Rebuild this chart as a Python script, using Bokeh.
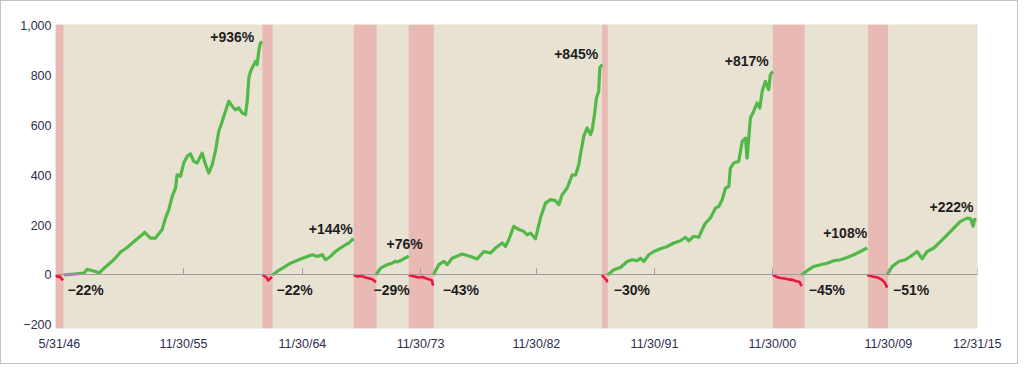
from bokeh.plotting import figure
from bokeh.models import LinearAxis, FixedTicker, BoxAnnotation, Range1d, ColumnDataSource
from bokeh.embed import file_html
from bokeh.resources import INLINE
from bokeh.core.properties import value

# ---------------- data ----------------
tick_dates = [1946.71, 1956.07, 1965.05, 1973.96, 1982.71, 1991.62, 2000.52, 2009.28, 2015.98]
tick_labels = ["5/31/46", "11/30/55", "11/30/64", "11/30/73", "11/30/82",
               "11/30/91", "11/30/00", "11/30/09", "12/31/15"]
y_ticks = [-200, 0, 200, 400, 600, 800, 1000]
y_labels = ["\u2212200", "0", "200", "400", "600", "800", "1,000"]

bear_start = [1946.41, 1962.03, 1968.92, 1973.07, 1987.67, 2000.55, 2007.74]
bear_end = [1947.01, 1962.79, 1970.64, 1974.96, 1988.09, 2002.96, 2009.25]
bear_decline = [-22, -22, -29, -43, -30, -45, -51]
bull_gain = [936, 144, 76, 845, 817, 108, 222]

bear1_t = [1946.41, 1946.56, 1946.71, 1946.86, 1946.98]
bear1_v = [0, -8, -5, -15, -22]
bear2_t = [1962.03, 1962.18, 1962.33, 1962.48, 1962.63, 1962.75]
bear2_v = [0, -4, -10, -22, -14, -8]
bear3_t = [1968.92, 1969.20, 1969.50, 1969.81, 1970.11, 1970.33, 1970.60]
bear3_v = [0, -6, -4, -10, -14, -17, -29]
bear4_t = [1973.07, 1973.43, 1973.80, 1974.11, 1974.41, 1974.63, 1974.82, 1974.91]
bear4_v = [0, -5, -10, -8, -14, -18, -22, -43]
bear5_t = [1987.67, 1987.77, 1987.88, 1988.00, 1988.07]
bear5_v = [0, -8, -14, -20, -30]
bear6_t = [2000.55, 2000.83, 2001.13, 2001.43, 2001.74, 2002.04, 2002.34, 2002.57, 2002.72]
bear6_v = [0, -8, -12, -14, -18, -20, -25, -28, -45]
bear7_t = [2007.67, 2008.07, 2008.45, 2008.80, 2008.98, 2009.09, 2009.18]
bear7_v = [0, -6, -10, -20, -30, -40, -51]

bull1_t = [1947.04, 1947.79, 1948.55, 1948.80, 1949.43, 1949.68, 1950.31, 1950.81, 1951.32,
           1951.82, 1952.58, 1952.95, 1953.13, 1953.58, 1953.96, 1954.46, 1954.71, 1954.96,
           1955.22, 1955.47, 1955.59, 1955.84, 1956.09, 1956.35, 1956.60, 1956.85, 1957.10,
           1957.48, 1957.73, 1957.98, 1958.24, 1958.49, 1958.73, 1958.99, 1959.11, 1959.49,
           1959.75, 1959.99, 1960.24, 1960.50, 1960.75, 1960.88, 1961.00, 1961.13, 1961.26,
           1961.50, 1961.63, 1961.75, 1961.88, 1962.01]
bull1_v = [0, 3, 7, 23, 14, 7, 38, 61, 92,
           110, 145, 161, 171, 148, 148, 182, 228, 262,
           315, 349, 402, 396, 450, 476, 486, 456, 449,
           489, 443, 409, 443, 500, 576, 616, 637, 697,
           677, 663, 670, 650, 643, 697, 790, 817, 831,
           857, 844, 898, 931, 936]
bull2_t = [1962.79, 1963.14, 1963.64, 1964.15, 1964.77, 1965.41, 1965.78, 1966.16, 1966.54,
           1966.79, 1967.16, 1967.54, 1967.92, 1968.30, 1968.55, 1968.80, 1968.92]
bull2_v = [0, 14, 30, 47, 61, 74, 81, 74, 81,
           61, 74, 94, 108, 121, 128, 141, 144]
bull3_t = [1970.60, 1970.94, 1971.44, 1971.82, 1972.05, 1972.20, 1972.58, 1972.95, 1973.07]
bull3_v = [0, 27, 41, 47, 55, 52, 61, 72, 76]
bull4_t = [1974.92, 1975.34, 1975.72, 1975.97, 1976.35, 1977.11, 1977.73, 1978.24, 1978.74,
           1979.24, 1979.62, 1980.13, 1980.37, 1980.62, 1981.00, 1981.38, 1981.75, 1982.01,
           1982.26, 1982.64, 1982.77, 1983.01, 1983.39, 1983.77, 1984.15, 1984.40, 1984.65,
           1985.03, 1985.41, 1985.66, 1985.91, 1986.03, 1986.28, 1986.54, 1986.79, 1986.92,
           1987.09, 1987.24, 1987.41, 1987.49, 1987.67]
bull4_v = [0, 41, 54, 41, 67, 84, 74, 64, 94,
           88, 108, 128, 114, 141, 195, 182, 175, 161,
           168, 145, 175, 228, 288, 302, 298, 282, 322,
           349, 402, 400, 443, 483, 556, 590, 563, 583,
           643, 710, 737, 831, 845]
bull5_t = [1988.07, 1988.55, 1989.05, 1989.56, 1989.94, 1990.31, 1990.56, 1990.81, 1991.19,
           1991.57, 1992.07, 1992.58, 1993.08, 1993.58, 1993.96, 1994.21, 1994.58, 1994.96,
           1995.22, 1995.47, 1995.84, 1996.22, 1996.47, 1996.73, 1996.98, 1997.23, 1997.35,
           1997.60, 1997.98, 1998.24, 1998.49, 1998.61, 1998.86, 1999.11, 1999.37, 1999.57,
           1999.75, 1999.99, 2000.24, 2000.37, 2000.55]
bull5_v = [0, 21, 30, 54, 61, 57, 67, 54, 81,
           94, 105, 114, 128, 137, 151, 137, 155, 151,
           182, 208, 228, 268, 275, 302, 349, 355, 429,
           449, 456, 536, 549, 469, 630, 657, 690, 670,
           737, 777, 744, 804, 817]
bull6_t = [2002.71, 2003.14, 2003.64, 2004.15, 2004.65, 2005.15, 2005.66, 2006.16, 2006.66,
           2007.16, 2007.67]
bull6_v = [0, 17, 34, 41, 47, 57, 61, 70, 81, 94, 108]
bull7_t = [2009.18, 2009.56, 2010.06, 2010.56, 2010.94, 2011.45, 2011.82, 2012.20, 2012.70,
           2013.20, 2013.71, 2014.21, 2014.71, 2015.22, 2015.47, 2015.67, 2015.77, 2015.92]
bull7_v = [0, 34, 54, 61, 74, 94, 65, 94, 108,
           134, 161, 188, 215, 228, 226, 195, 222, 222]

bears = [(bear1_t, bear1_v), (bear2_t, bear2_v), (bear3_t, bear3_v), (bear4_t, bear4_v),
         (bear5_t, bear5_v), (bear6_t, bear6_v), (bear7_t, bear7_v)]
bulls = [(bull1_t, bull1_v), (bull2_t, bull2_v), (bull3_t, bull3_v), (bull4_t, bull4_v),
         (bull5_t, bull5_v), (bull6_t, bull6_v), (bull7_t, bull7_v)]

# ---------------- styles ----------------
BG = "#E8E2D3"
BAND = "#E9B9B4"
GREEN = "#52B848"
RED = "#E8173F"
TICK_COL = "#2E2E4E"
FONT = "Liberation Sans"

p = figure(width=1018, height=364, output_backend="svg", toolbar_location=None,
           x_range=Range1d(1946.41, 2016.0), y_range=Range1d(-215, 1005),
           min_border_left=54, min_border_right=42, min_border_top=23, min_border_bottom=37)
p.styles = {"border": "1px solid #c4c4c4"}
p.background_fill_color = BG
p.border_fill_color = "white"
p.outline_line_color = None
p.grid.visible = False

# main axes (grab them before adding the zero-line axis)
xa = p.below[0]
ya = p.left[0]
xa.ticker = FixedTicker(ticks=tick_dates)
xa.major_label_overrides = {t: l for t, l in zip(tick_dates, tick_labels)}
ya.ticker = FixedTicker(ticks=y_ticks)
ya.major_label_overrides = {t: l for t, l in zip(y_ticks, y_labels)}
for ax, so in ((xa, 8), (ya, 4)):
    ax.axis_line_color = None
    ax.major_tick_line_color = None
    ax.major_tick_out = 0
    ax.major_tick_in = 0
    ax.minor_tick_line_color = None
    ax.minor_tick_out = 0
    ax.major_label_text_font = FONT
    ax.major_label_text_font_size = "12.5px"
    ax.major_label_text_color = TICK_COL
    ax.major_label_standoff = so

for s, e in zip(bear_start, bear_end):
    p.add_layout(BoxAnnotation(left=s, right=e, fill_color=BAND, fill_alpha=1.0,
                               line_color=None, level="underlay"))

# zero line with ticks pointing up
zax = LinearAxis(fixed_location=0, ticker=FixedTicker(ticks=tick_dates[1:]),
                 axis_line_color="#9C9C9C", axis_line_width=1,
                 major_tick_line_color="#9C9C9C", major_tick_out=6, major_tick_in=0,
                 minor_tick_line_color=None, major_label_text_font_size="0px",
                 major_label_text_alpha=0, major_label_standoff=0)
p.add_layout(zax, "above")

for t, v in bears:
    p.line(t, v, line_color=RED, line_width=2.6, line_join="round")
for t, v in bulls:
    p.line(t, v, line_color=GREEN, line_width=3.2, line_join="round")

# annotations
peak_dx = [-8, -1, 14, -4, -4, 0, -3]
peak_dy = [-5, -10, -12, -10, -10, -15, -13]
peak_src = ColumnDataSource(dict(
    x=[b[0][-1] for b in bulls], y=bull_gain,
    text=["+%d%%" % g for g in bull_gain], dx=peak_dx, dy=peak_dy))
p.text(x="x", y="y", text="text", x_offset="dx", y_offset="dy", source=peak_src,
       text_align="right", text_baseline="middle", text_font=value(FONT),
       text_font_style="bold", text_font_size="14px", text_color="#1E1E1E")

trough_dx = [4, 4, -3, 9, 6, 4, 5]
trough_src = ColumnDataSource(dict(
    x=bear_end, y=[0] * len(bear_end),
    text=["\u2212%d%%" % abs(d) for d in bear_decline], dx=trough_dx))
p.text(x="x", y="y", text="text", x_offset="dx", y_offset=15, source=trough_src,
       text_align="left", text_baseline="middle", text_font=value(FONT),
       text_font_style="bold", text_font_size="14px", text_color="#1E1E1E")

open("out.html", "w").write(file_html(p, INLINE))
